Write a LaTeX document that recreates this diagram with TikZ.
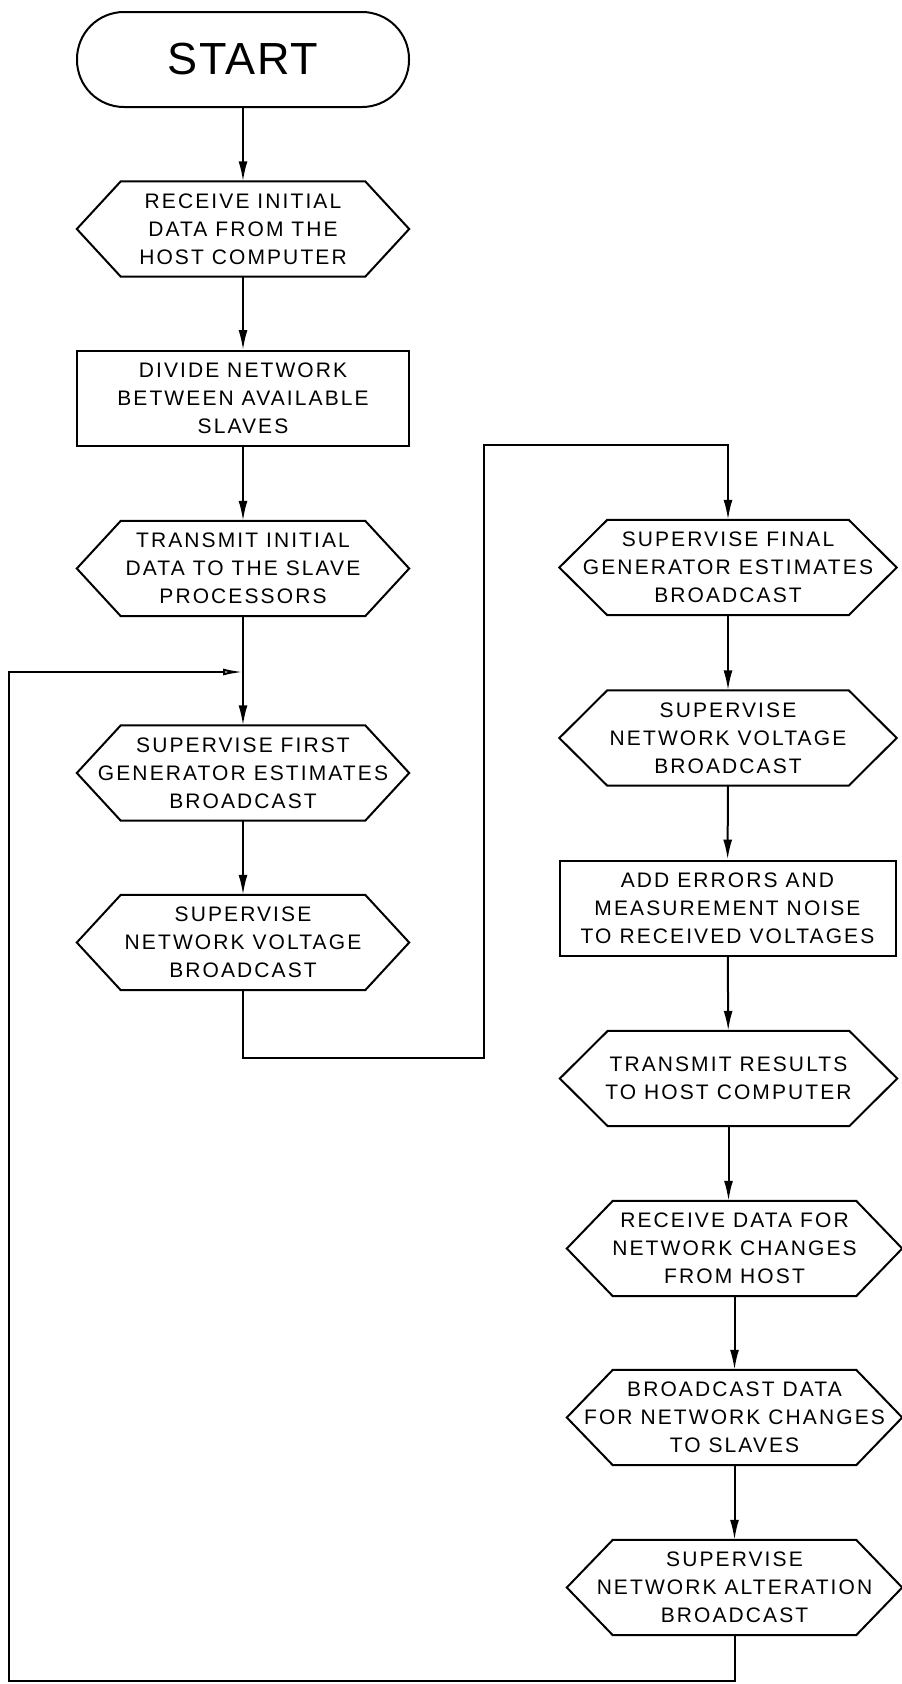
\documentclass[tikz,border=0pt]{standalone}
\usepackage{fontspec}
\setmainfont{Liberation Sans}[LetterSpace=10]
\newfontfamily\startfont{Liberation Sans}[LetterSpace=4]
\usetikzlibrary{arrows.meta}
\newcommand{\lblfont}{\fontsize{21}{28}\selectfont}
\newcommand{\hexframe}[2]{\draw[frame] (#1.west) -- ([xshift=#2]#1.north west) -- ([xshift=-#2]#1.north east) -- (#1.east) -- ([xshift=-#2]#1.south east) -- ([xshift=#2]#1.south west) -- cycle;}
\tikzset{
  frame/.style={line width=2pt, line join=miter},
  lbl/.style={minimum width=#1, minimum height=95pt, inner sep=0pt, align=center, font=\lblfont},
  procbox/.style={lbl=#1, draw, line width=2pt},
  termbox/.style={draw, line width=2pt, minimum width=332pt, minimum height=95pt, rounded corners=47pt, inner sep=0pt, font=\startfont\fontsize{45}{50}\selectfont},
  flow/.style={line width=2pt, -{Latex[length=20pt,width=9pt]}},
  backflow/.style={line width=2pt, -{Latex[open,length=20pt,width=7pt]}}
}
\begin{document}
\begin{tikzpicture}[x=1pt, y=-1pt]
\useasboundingbox (0,0) rectangle (902,1684);
% left column
\node[termbox] (start) at (243,59.5) {START};
\node[lbl=332pt] (h1) at (243,229) {RECEIVE INITIAL\\DATA FROM THE\\HOST COMPUTER};
\node[procbox=332pt] (r1) at (243,398.5) {DIVIDE NETWORK\\BETWEEN AVAILABLE\\SLAVES};
\node[lbl=332pt] (h2) at (243,568.5) {TRANSMIT INITIAL\\DATA TO THE SLAVE\\PROCESSORS};
\node[lbl=332pt] (h3) at (243,773) {SUPERVISE FIRST\\GENERATOR ESTIMATES\\BROADCAST};
\node[lbl=332pt] (h4) at (243,942.5) {SUPERVISE\\NETWORK VOLTAGE\\BROADCAST};
% right column
\node[lbl=337pt] (h5) at (728,567.5) {SUPERVISE FINAL\\GENERATOR ESTIMATES\\BROADCAST};
\node[lbl=337pt] (h6) at (728,738) {SUPERVISE\\NETWORK VOLTAGE\\BROADCAST};
\node[procbox=336pt] (r2) at (727.5,908) {ADD ERRORS AND\\MEASUREMENT NOISE\\TO RECEIVED VOLTAGES};
\node[lbl=337pt] (h7) at (728.5,1078.5) {TRANSMIT RESULTS\\TO HOST COMPUTER};
\node[lbl=335pt] (h8) at (734.5,1248.5) {RECEIVE DATA FOR\\NETWORK CHANGES\\FROM HOST};
\node[lbl=335pt] (h9) at (734.5,1417.5) {BROADCAST DATA\\FOR NETWORK CHANGES\\TO SLAVES};
\node[lbl=335pt] (h10) at (734.5,1587.5) {SUPERVISE\\NETWORK ALTERATION\\BROADCAST};
% hexagon outlines
\hexframe{h1}{44pt}
\hexframe{h2}{44pt}
\hexframe{h3}{44pt}
\hexframe{h4}{44pt}
\hexframe{h5}{48pt}
\hexframe{h6}{48pt}
\hexframe{h7}{48pt}
\hexframe{h8}{46pt}
\hexframe{h9}{46pt}
\hexframe{h10}{46pt}
% connectors
\coordinate (jn) at (243,672);
\coordinate (c1) at (484,1058);
\coordinate (c2) at (484,445);
\coordinate (bl) at (9,1681);
\draw[flow] (start) -- (h1);
\draw[flow] (h1) -- (r1);
\draw[flow] (r1) -- (h2);
\draw[flow] (h2) -- (h3);
\draw[flow] (h3) -- (h4);
\draw[flow] (h4.south) |- (c1) -- (c2) -| (h5.north);
\draw[flow] (h5) -- (h6);
\draw[flow] (h6) -- (r2);
\draw[flow] (r2) -- (h7);
\draw[flow] (h7.south) -- (h7.south |- h8.north);
\draw[flow] (h8) -- (h9);
\draw[flow] (h9) -- (h10);
\draw[backflow] (h10.south) |- (bl) |- (jn);
\end{tikzpicture}
\end{document}
